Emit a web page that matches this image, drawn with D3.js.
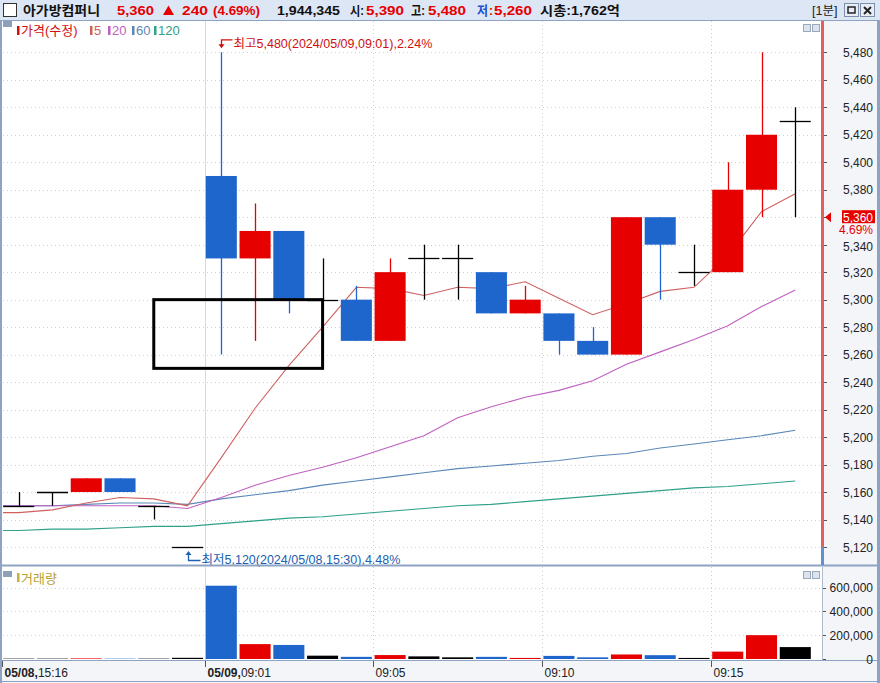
<!DOCTYPE html>
<html><head><meta charset="utf-8">
<script src="https://cdn.jsdelivr.net/npm/d3@7"></script>
<style>
body{margin:0;background:#fff}
svg{display:block}
text{font-family:"Liberation Sans",Arial,"Noto Sans CJK KR",sans-serif}
</style>
</head><body>
<svg id="c" width="880" height="683"></svg>
<script>
// ---------- data ----------
const opens  = [5150,5160,5160,5170,5150,5120,5390,5330,5350,5300,5300,5270,5330,5330,5320,5290,5290,5270,5260,5360,5320,5320,5380,5430];
const highs  = [5160,5160,5170,5170,5150,5120,5480,5370,5350,5330,5310,5330,5340,5340,5320,5310,5290,5280,5360,5360,5340,5400,5480,5440];
const lows   = [5150,5150,5160,5160,5140,5120,5260,5270,5290,5300,5270,5270,5300,5300,5290,5290,5260,5260,5260,5300,5310,5320,5360,5360];
const closes = [5150,5160,5170,5160,5150,5120,5330,5350,5300,5300,5270,5320,5330,5330,5290,5300,5270,5260,5360,5340,5320,5380,5420,5430];
const volumes = [3000,3000,5000,3000,3000,10000,615000,125000,118000,28000,18000,33000,22000,14000,18000,9000,26000,14000,38000,32000,9000,62000,200000,100000];
const ma5   = [5145,5147,5152,5156,5155,5150,5185,5221,5252,5280,5309,5308,5303,5309,5308,5313,5301,5289,5297,5306,5309,5332,5364,5377];
const ma20  = [5150,5150,5150,5150,5150,5148,5156,5165,5172,5178,5185,5193,5201,5214,5222,5229,5234,5241,5253,5262,5271,5281,5295,5307];
const ma60  = [5150,5150,5151,5152,5152,5151,5155,5158,5161,5165,5168,5171,5174,5177,5179,5181,5183,5186,5188,5192,5195,5198,5201,5205];
const ma120 = [5132,5133,5133,5134,5135,5135,5137,5139,5141,5142,5144,5146,5148,5150,5151,5153,5155,5157,5159,5161,5163,5164,5166,5168];
const tickIndex  = [0,6,11,16,21];
const tickDates  = ["05/08,","05/09,","","",""];
const tickTimes  = ["15:16","09:01","09:05","09:10","09:15"];
const priceTicks = d3.range(5120,5481,20);
const volTicks   = [0,200000,400000,600000];
const prevClose = 5120, lastPrice = 5360, lastPct = "4.69%";
const boxIdx = [4,9], boxPrice = [5300,5250];

// ---------- scaffolding ----------
const svg = d3.select("#c");
const RED="#e60000", BLUE="#1f66cc", BORDER="#8ea3c3";
const plotL=3, plotR=822, axR=877;
const x = d3.scaleBand().domain(d3.range(opens.length)).range([3.2,810.8]).paddingInner(0.08);
const bw = x.bandwidth();
const cx = i => x(i)+bw/2;
const y = d3.scaleLinear().domain([5120,5480]).range([547,52.3]);
const yv = d3.scaleLinear().domain([0,600000]).range([659,587.5]);
const col = i => closes[i]>opens[i]?RED:(closes[i]<opens[i]?BLUE:"#000");

// backgrounds
svg.append("rect").attr("width",880).attr("height",683).attr("fill","#fff");
svg.append("rect").attr("x",plotR).attr("y",20).attr("width",axR-plotR).attr("height",640).attr("fill","#f3f5f9");
svg.append("rect").attr("x",0).attr("y",660).attr("width",880).attr("height",23).attr("fill","#f3f5f9");

// header
const hd = svg.append("g");
hd.append("rect").attr("x",0).attr("y",0).attr("width",880).attr("height",20).attr("fill","#dde6f5");
hd.append("line").attr("x1",0).attr("x2",880).attr("y1",20.5).attr("y2",20.5).attr("stroke",BORDER);
hd.append("rect").attr("x",3.5).attr("y",3.5).attr("width",13).attr("height",13).attr("fill","#fff").attr("stroke","#333");
const hitems = [
  [23,77,"아가방컴퍼니","#111"],[117,37,"5,360",RED],[182,26,"240",RED],[213,47,"(4.69%)",RED],
  [277,63,"1,944,345","#111"],[350,14,"시:","#111"],[366,38,"5,390",RED],[411,14,"고:","#111"],[428,38,"5,480",RED],
  [477,11,"저","#1f4fd0"],[489,4,":",RED],[494,38,"5,260",RED],[540,80,"시총:1,762억","#111"]];
hitems.forEach(([xx,len,t,c])=>hd.append("text").attr("x",xx).attr("y",15).attr("fill",c)
  .attr("font-size",13).attr("font-weight","bold").attr("textLength",len).attr("lengthAdjust","spacingAndGlyphs").text(t));
hd.append("path").attr("d","M163,15H174L168.5,5.5Z").attr("fill",RED);
hd.append("text").attr("x",812).attr("y",15).attr("font-size",12.5).attr("fill","#222").text("[1분]");
[844,860].forEach(xx=>{
  hd.append("rect").attr("x",xx+0.5).attr("y",3.5).attr("width",14).attr("height",13).attr("fill","#e8edf5").attr("stroke","#7d8fa9");
});
hd.append("rect").attr("x",848).attr("y",7).attr("width",7).attr("height",6).attr("fill","none").attr("stroke","#222").attr("stroke-width",1.5);
hd.append("path").attr("d","M864,7L871,14M871,7L864,14").attr("stroke","#222").attr("stroke-width",2);

// grid lines
const g = svg.append("g");
priceTicks.forEach(v=>g.append("line").attr("x1",plotL).attr("x2",plotR).attr("y1",Math.round(y(v))+0.5).attr("y2",Math.round(y(v))+0.5)
  .attr("stroke","#c9ced8").attr("stroke-dasharray","1,3"));
volTicks.slice(1).forEach(v=>g.append("line").attr("x1",plotL).attr("x2",plotR).attr("y1",Math.round(yv(v))+0.5).attr("y2",Math.round(yv(v))+0.5)
  .attr("stroke","#c9ced8").attr("stroke-dasharray","1,3"));
tickIndex.forEach((ti,k)=>{
  if(k===0) return;
  const xx = Math.round(x(ti)-bw*0.04)+0.5;
  [[21,565],[567,660]].forEach(([a,b])=>g.append("line").attr("x1",xx).attr("x2",xx).attr("y1",a).attr("y2",b)
    .attr("stroke",k===1?"#d5dae2":"#c9ced8").attr("stroke-dasharray",k===1?null:"1,3"));
});

// legend
const lg = svg.append("g");
lg.append("rect").attr("x",3).attr("y",21).attr("width",9).attr("height",6).attr("fill","#8ea0b8");
const legend=[[17,"가격(수정)","#d01010"],[90,"5","#d06060"],[108,"20","#c060c0"],[132,"60","#5a88b8"],[154,"120","#2fa08a"]];
legend.forEach(([xx,t,c])=>{
  lg.append("rect").attr("x",xx).attr("y",26).attr("width",2.5).attr("height",9).attr("fill",c);
  lg.append("text").attr("x",xx+4).attr("y",35).attr("font-size",13).attr("fill",c).text(t);
});
svg.append("rect").attr("x",3).attr("y",571).attr("width",9).attr("height",6).attr("fill","#8ea0b8");
svg.append("rect").attr("x",17).attr("y",573).attr("width",2.5).attr("height",9).attr("fill","#c8b040");
svg.append("text").attr("x",21).attr("y",583).attr("font-size",13).attr("fill","#b8a030").text("거래량");
[[803,24],[803,571]].forEach(([xx,yy])=>{
  svg.append("rect").attr("x",xx+0.5).attr("y",yy+0.5).attr("width",7).attr("height",7).attr("fill","#dde3ec").attr("stroke","#9aa8bc");
  svg.append("rect").attr("x",xx+9.5).attr("y",yy+0.5).attr("width",7).attr("height",7).attr("fill","#dde3ec").attr("stroke","#9aa8bc");
});

// moving averages (first value carried to the panel's left edge)
const line = d3.line().x(d=>d[0]).y(d=>y(d[1]));
[[ma120,"#2fa08a"],[ma60,"#5a88b8"],[ma20,"#c060c0"],[ma5,"#d06060"]].forEach(([arr,c])=>{
  const pts = [[plotL, arr[0]]].concat(arr.map((v,i)=>[cx(i),v]));
  svg.append("path").attr("d",line(pts)).attr("fill","none").attr("stroke",c).attr("stroke-width",1.1);
});

// candles
const cg = svg.append("g");
opens.forEach((o,i)=>{
  const c = col(i), xc = Math.round(cx(i))+0.5;
  cg.append("line").attr("x1",xc).attr("x2",xc).attr("y1",y(highs[i])).attr("y2",y(lows[i])).attr("stroke",c).attr("stroke-width",1.3);
  if(o===closes[i]){
    cg.append("line").attr("x1",x(i)).attr("x2",x(i)+bw).attr("y1",Math.round(y(o))+0.5).attr("y2",Math.round(y(o))+0.5).attr("stroke","#000").attr("stroke-width",1.3);
  } else {
    const t=y(Math.max(o,closes[i])), b=y(Math.min(o,closes[i]));
    cg.append("rect").attr("x",x(i)).attr("y",t).attr("width",bw).attr("height",b-t).attr("fill",c);
  }
});

// volume bars
volumes.forEach((v,i)=>{
  svg.append("rect").attr("x",x(i)).attr("y",yv(v)).attr("width",bw).attr("height",yv(0)-yv(v)).attr("fill",col(i));
});

// annotation box
svg.append("rect").attr("x",cx(boxIdx[0])).attr("y",y(boxPrice[0])).attr("width",cx(boxIdx[1])-cx(boxIdx[0]))
  .attr("height",y(boxPrice[1])-y(boxPrice[0])).attr("fill","none").attr("stroke","#000").attr("stroke-width",3);

// high / low annotations
const hiI = highs.indexOf(d3.max(highs)), loI = lows.indexOf(d3.min(lows));
const hx = Math.round(cx(hiI))+0.5, hy = y(highs[hiI]);
svg.append("path").attr("d",`M${hx+11},${hy-12.5}H${hx}V${hy-7}`).attr("fill","none").attr("stroke","#d01010").attr("stroke-width",1.3);
svg.append("path").attr("d",`M${hx-3},${hy-8}H${hx+3}L${hx},${hy-4}Z`).attr("fill","#d01010");
svg.append("text").attr("x",hx+12).attr("y",hy-4).attr("font-size",12.5).attr("fill","#d01010").text("최고5,480(2024/05/09,09:01),2.24%");
const lx = Math.round(cx(loI))+0.5, ly = y(lows[loI]);
svg.append("path").attr("d",`M${lx},${ly+6}V${ly+13.5}H${lx+12}`).attr("fill","none").attr("stroke","#2060b0").attr("stroke-width",1.3);
svg.append("path").attr("d",`M${lx-3},${ly+8}H${lx+3}L${lx},${ly+4}Z`).attr("fill","#2060b0");
svg.append("text").attr("x",lx+13).attr("y",ly+17).attr("font-size",12.5).attr("fill","#2060b0").text("최저5,120(2024/05/08,15:30),4.48%");

// panel borders
svg.append("line").attr("x1",0).attr("x2",880).attr("y1",565.5).attr("y2",565.5).attr("stroke",BORDER).attr("stroke-width",2);
svg.append("line").attr("x1",0).attr("x2",880).attr("y1",660.5).attr("y2",660.5).attr("stroke",BORDER);
svg.append("line").attr("x1",0).attr("x2",880).attr("y1",681.5).attr("y2",681.5).attr("stroke",BORDER);
svg.append("line").attr("x1",1).attr("x2",1).attr("y1",20).attr("y2",683).attr("stroke",BORDER).attr("stroke-width",2);
svg.append("line").attr("x1",878.5).attr("x2",878.5).attr("y1",20).attr("y2",683).attr("stroke",BORDER).attr("stroke-width",3);
svg.append("line").attr("x1",plotR+0.5).attr("x2",plotR+0.5).attr("y1",21).attr("y2",y(prevClose)).attr("stroke","#e06060").attr("stroke-width",3);
svg.append("line").attr("x1",plotR+0.5).attr("x2",plotR+0.5).attr("y1",y(prevClose)).attr("y2",565).attr("stroke","#6090d0").attr("stroke-width",3);
svg.append("line").attr("x1",plotR+0.5).attr("x2",plotR+0.5).attr("y1",567).attr("y2",660).attr("stroke","#b0bccc");

// price axis
const pa = svg.append("g").attr("transform",`translate(${plotR},0)`);
priceTicks.forEach(v=>{
  pa.append("line").attr("x1",2).attr("x2",5).attr("y1",Math.round(y(v))+0.5).attr("y2",Math.round(y(v))+0.5).attr("stroke","#555");
  pa.append("text").attr("x",51).attr("y",y(v)+4.5+(v===5340?2:0)).attr("text-anchor","end").attr("font-size",12).attr("fill","#222").text(d3.format(",")(v));
});
const py = y(lastPrice);
pa.append("path").attr("d",`M3,${py}L9,${py-5}V${py+5}Z`).attr("fill",RED);
pa.append("rect").attr("x",20).attr("y",py-7).attr("width",33).attr("height",13).attr("fill",RED);
pa.append("text").attr("x",51).attr("y",py+4.5).attr("text-anchor","end").attr("font-size",12).attr("fill","#fff").text(d3.format(",")(lastPrice));
pa.append("text").attr("x",51).attr("y",py+17).attr("text-anchor","end").attr("font-size",12).attr("fill",RED).text(lastPct);

// volume axis
volTicks.forEach(v=>{
  pa.append("line").attr("x1",1).attr("x2",4).attr("y1",Math.round(yv(v))+0.5).attr("y2",Math.round(yv(v))+0.5).attr("stroke","#555");
  pa.append("text").attr("x",51).attr("y",yv(v)+4.5).attr("text-anchor","end").attr("font-size",12).attr("fill","#222").text(d3.format(",")(v));
});

// x axis
tickIndex.forEach((ti,k)=>{
  const xx = Math.round(x(ti)-bw*0.04)+0.5;
  svg.append("line").attr("x1",xx).attr("x2",xx).attr("y1",661).attr("y2",667).attr("stroke","#555");
  const t = svg.append("text").attr("x",xx+2).attr("y",677).attr("font-size",12).attr("fill","#222");
  if(tickDates[k]) t.append("tspan").attr("font-weight","bold").text(tickDates[k]);
  t.append("tspan").text(tickTimes[k]);
});
</script>
</body></html>
